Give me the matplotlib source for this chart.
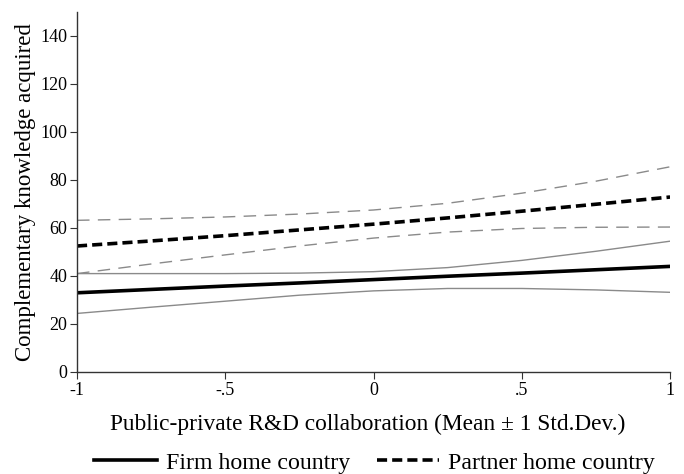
import numpy as np
import matplotlib
matplotlib.use("Agg")
from matplotlib import pyplot as plt

plt.rcParams['font.family'] = ['Liberation Serif', 'DejaVu Serif']

# public-private R&D collaboration (mean +/- 1 sd)
x = [-1, -0.75, -0.5, -0.25, 0, 0.25, 0.5, 0.75, 1]

firm = [33.0, 34.4, 35.8, 37.1, 38.5, 39.9, 41.2, 42.6, 44.0]
firm_hi = [41.0, 41.0, 41.0, 41.2, 41.8, 43.5, 46.5, 50.3, 54.5]
firm_lo = [24.4, 27.0, 29.5, 32.0, 33.8, 34.8, 34.8, 34.2, 33.2]

partner = [52.5, 54.6, 56.8, 59.2, 61.6, 64.2, 67.0, 69.9, 72.9]
partner_hi = [63.2, 63.8, 64.6, 65.8, 67.5, 70.3, 74.5, 79.5, 85.5]
partner_lo = [41.0, 45.0, 48.8, 52.5, 55.8, 58.3, 59.8, 60.3, 60.4]

xticks = [-1, -0.5, 0, 0.5, 1]
xticklabels = ['-1', '-.5', '0', '.5', '1']
yticks = [0, 20, 40, 60, 80, 100, 120, 140]

fig = plt.figure(figsize=(6.84, 4.74), dpi=100)
ax = fig.add_axes([0.1126, 0.2152, 0.867, 0.7595])

gray = '#8a8a8a'
ax.plot(x, firm_hi, color=gray, lw=1.0)
ax.plot(x, firm_lo, color=gray, lw=1.0)
ax.plot(x, partner_hi, color=gray, lw=1.0, dashes=(9, 6))
ax.plot(x, partner_lo, color=gray, lw=1.0, dashes=(9, 6))
ax.plot(x, firm, color='black', lw=2.6, label='Firm home country')
ax.plot(x, partner, color='black', lw=2.6, dashes=(2.8, 1.4), label='Partner home country')

ax.set_xlim(-1, 1)
ax.set_ylim(0, 150)
ax.set_xticks(xticks)
ax.set_xticklabels(xticklabels)
ax.set_yticks(yticks)
for s in ['top', 'right']:
    ax.spines[s].set_visible(False)
for s in ['left', 'bottom']:
    ax.spines[s].set_color('#333333')
    ax.spines[s].set_linewidth(1.0)
ax.tick_params(direction='out', length=5, color='#333333', labelsize=13, pad=2)

ax.set_xlabel('Public-private R&D collaboration (Mean \u00b1 1 Std.Dev.)', fontsize=16.8)
ax.xaxis.set_label_coords(0.49, -0.115)
ax.set_ylabel('Complementary knowledge acquired', fontsize=16.5, labelpad=3)

fig.legend(loc='lower center', ncol=2, frameon=False, fontsize=17.2,
           handlelength=2.6, columnspacing=1.1, handletextpad=0.4,
           bbox_to_anchor=(0.548, -0.045))

fig.savefig('out.png', dpi=100)
